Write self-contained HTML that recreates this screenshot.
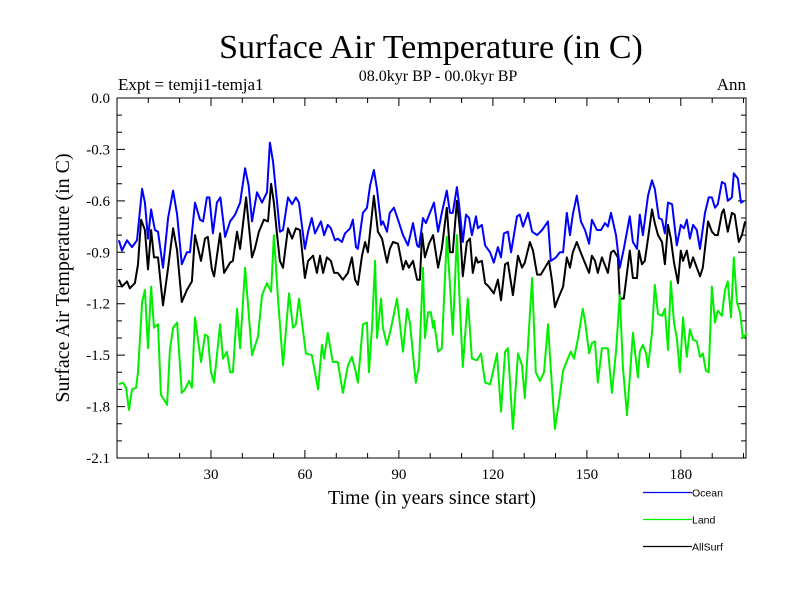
<!DOCTYPE html>
<html><head><meta charset="utf-8"><style>
html,body{margin:0;padding:0;background:#fff;}
svg{display:block;}
text{font-family:"Liberation Serif",serif;fill:#000;}
.sans{font-family:"Liberation Sans",sans-serif;}
</style></head><body>
<svg id="chart" width="800" height="600" viewBox="0 0 800 600">
<text x="431" y="58" font-size="34" text-anchor="middle">Surface Air Temperature (in C)</text>
<text x="438" y="81" font-size="16" text-anchor="middle">08.0kyr BP - 00.0kyr BP</text>
<text x="118" y="90" font-size="17">Expt = temji1-temja1</text>
<text x="746" y="90" font-size="17" text-anchor="end">Ann</text>
<text transform="translate(69,278) rotate(-90)" font-size="20" text-anchor="middle">Surface Air Temperature (in C)</text>
<text x="432" y="504" font-size="20" text-anchor="middle">Time (in years since start)</text>
<g id="axes"></g>
<g id="series"></g>
<g id="legend"></g>
</svg>
<script>
const xTickValues=[30,60,90,120,150,180];
const yTickValues=[0,-0.3,-0.6,-0.9,-1.2,-1.5,-1.8,-2.1];
const yTickLabels=["0.0","-0.3","-0.6","-0.9","-1.2","-1.5","-1.8","-2.1"];
const seriesNames=["Ocean","Land","AllSurf"];
const oceanYears=[0.6,1.6,3.2,4.8,6.4,8.0,8.9,9.9,10.9,12.1,13.1,14.7,16.3,17.9,19.2,20.7,22.3,23.3,24.9,26.5,27.5,28.7,29.5,30.6,31.9,33.0,34.5,36.1,37.7,39.3,40.9,42.0,43.1,44.7,46.3,47.9,48.8,49.8,51.1,52.0,53.0,54.6,55.9,57.1,58.1,60.0,61.0,62.2,63.2,65.1,66.1,67.3,68.3,69.6,70.5,71.8,72.8,74.4,75.3,76.3,76.9,78.5,79.8,80.8,82.0,83.0,84.3,84.9,86.2,87.1,88.4,89.7,91.3,92.9,94.5,95.8,96.4,97.7,98.6,99.9,101.2,102.5,103.7,105.3,106.3,107.2,108.5,109.2,110.4,111.4,112.4,113.3,114.6,115.2,116.5,117.5,119.1,120.3,121.6,122.6,123.5,124.8,125.8,127.7,128.6,129.6,131.2,132.5,134.1,135.7,137.6,138.5,140.1,141.4,142.4,143.6,144.6,145.5,146.8,148.1,149.4,150.7,151.6,153.2,154.5,155.8,156.7,157.7,159.3,160.5,161.8,163.7,164.7,166.0,166.9,167.9,169.5,170.8,171.7,173.0,174.0,174.9,175.9,177.2,178.7,180.0,181.0,181.9,182.9,183.9,185.1,186.1,187.7,188.9,189.9,190.9,191.8,193.1,194.1,195.0,196.3,196.9,198.2,199.2,200.1];
const oceanValues=[-0.83,-0.89,-0.83,-0.87,-0.83,-0.53,-0.61,-0.82,-0.65,-0.77,-0.78,-0.99,-0.70,-0.54,-0.68,-0.97,-0.90,-0.90,-0.61,-0.71,-0.72,-0.58,-0.58,-0.79,-0.61,-0.58,-0.81,-0.72,-0.68,-0.61,-0.41,-0.51,-0.72,-0.55,-0.61,-0.55,-0.26,-0.37,-0.61,-0.78,-0.77,-0.58,-0.62,-0.58,-0.61,-0.88,-0.78,-0.70,-0.79,-0.72,-0.80,-0.74,-0.76,-0.83,-0.82,-0.84,-0.79,-0.76,-0.71,-0.87,-0.88,-0.67,-0.64,-0.51,-0.42,-0.53,-0.74,-0.72,-0.78,-0.67,-0.64,-0.71,-0.80,-0.86,-0.73,-0.86,-0.87,-0.70,-0.73,-0.67,-0.61,-0.78,-0.67,-0.54,-0.67,-0.67,-0.52,-0.62,-0.84,-0.68,-0.70,-0.80,-0.69,-0.76,-0.74,-0.86,-0.90,-0.96,-0.87,-0.93,-0.79,-0.78,-0.90,-0.69,-0.68,-0.75,-0.67,-0.78,-0.80,-0.77,-0.72,-0.95,-0.93,-0.90,-0.90,-0.67,-0.80,-0.68,-0.57,-0.72,-0.77,-0.85,-0.71,-0.77,-0.77,-0.73,-0.75,-0.67,-0.80,-0.99,-0.88,-0.69,-0.84,-0.88,-0.68,-0.80,-0.57,-0.48,-0.53,-0.70,-0.71,-0.79,-0.61,-0.62,-0.86,-0.74,-0.76,-0.71,-0.82,-0.74,-0.77,-0.88,-0.67,-0.58,-0.58,-0.64,-0.62,-0.49,-0.50,-0.60,-0.58,-0.44,-0.47,-0.61,-0.60];
const landYears=[0.6,1.9,2.9,3.8,4.8,6.1,6.7,8.0,8.9,9.9,10.9,11.8,13.1,14.0,16.0,16.9,17.9,19.2,20.7,21.7,23.0,23.9,24.9,26.8,28.1,29.0,30.0,31.0,32.9,33.8,35.1,36.1,37.0,38.3,39.3,40.9,43.1,44.0,45.0,46.3,47.9,49.2,50.1,51.4,53.0,54.9,56.2,57.1,58.1,60.3,62.2,64.2,65.4,66.1,67.3,68.9,70.5,72.1,73.7,75.0,76.0,76.9,78.5,79.8,80.4,81.4,82.4,83.0,84.3,84.9,86.2,87.5,89.4,91.3,92.6,93.5,95.4,96.4,97.7,98.3,99.3,100.2,100.9,101.2,102.5,103.7,105.3,106.3,107.2,108.5,109.5,110.4,112.0,113.3,114.9,116.2,117.5,119.1,120.0,121.3,122.6,123.9,124.8,126.4,128.0,129.3,130.2,132.5,133.7,135.0,136.3,137.6,138.5,139.8,141.1,142.4,143.9,144.9,145.9,147.2,148.7,149.4,150.7,151.6,152.6,153.5,154.8,156.7,158.0,159.3,160.5,161.5,162.8,163.7,164.7,166.3,166.9,167.9,168.9,169.5,170.8,171.7,172.7,174.0,174.9,175.9,176.8,177.8,178.7,179.7,180.7,181.9,182.9,183.9,185.1,186.1,187.0,188.0,188.9,189.9,190.9,191.8,193.1,194.1,195.0,196.0,196.9,197.9,198.9,199.8,201.1];
const landValues=[-1.67,-1.66,-1.69,-1.82,-1.70,-1.69,-1.60,-1.19,-1.12,-1.46,-1.10,-1.34,-1.32,-1.73,-1.79,-1.47,-1.34,-1.31,-1.72,-1.70,-1.65,-1.69,-1.28,-1.54,-1.38,-1.39,-1.60,-1.66,-1.32,-1.52,-1.48,-1.60,-1.60,-1.23,-1.46,-0.99,-1.50,-1.45,-1.39,-1.15,-1.08,-1.13,-0.80,-1.17,-1.56,-1.14,-1.34,-1.32,-1.17,-1.49,-1.50,-1.70,-1.44,-1.52,-1.37,-1.54,-1.54,-1.72,-1.56,-1.51,-1.58,-1.66,-1.32,-1.31,-1.60,-1.34,-0.95,-1.40,-1.17,-1.34,-1.44,-1.34,-1.17,-1.48,-1.23,-1.31,-1.66,-1.56,-0.99,-1.40,-1.25,-1.25,-1.34,-1.30,-1.48,-1.46,-0.81,-1.09,-1.38,-0.80,-1.23,-1.57,-1.17,-1.52,-1.53,-1.49,-1.66,-1.67,-1.60,-1.49,-1.83,-1.48,-1.46,-1.93,-1.49,-1.56,-1.75,-1.05,-1.60,-1.65,-1.60,-1.32,-1.58,-1.93,-1.77,-1.59,-1.52,-1.48,-1.52,-1.40,-1.23,-1.30,-1.49,-1.43,-1.42,-1.66,-1.46,-1.46,-1.72,-1.48,-1.15,-1.57,-1.85,-1.63,-1.37,-1.63,-1.48,-1.44,-1.49,-1.57,-1.37,-1.09,-1.26,-1.27,-1.23,-1.47,-1.07,-1.31,-1.40,-1.60,-1.28,-1.51,-1.35,-1.41,-1.42,-1.51,-1.49,-1.59,-1.60,-1.10,-1.31,-1.24,-1.27,-1.12,-1.07,-1.28,-0.93,-1.19,-1.25,-1.40,-1.37,-1.05];
const allYears=[0.6,1.6,3.2,4.1,5.7,6.7,7.7,8.9,9.9,10.9,11.8,13.1,14.7,16.3,17.9,19.2,20.7,22.3,23.9,24.9,26.8,28.1,29.0,30.3,31.0,32.9,34.2,36.1,37.0,38.3,39.3,41.2,43.1,44.0,45.3,46.9,48.2,49.2,50.1,51.1,52.0,53.0,54.6,55.9,57.1,58.4,60.0,61.0,62.6,63.8,64.8,65.8,67.0,68.3,69.3,70.5,72.1,73.7,75.0,76.0,76.9,78.2,79.2,80.1,82.0,83.3,84.6,86.2,87.1,88.1,89.7,91.3,92.2,93.2,94.5,95.8,96.7,97.4,98.3,99.6,100.9,102.5,103.7,105.3,106.3,107.2,108.5,109.5,110.4,111.7,112.7,113.6,114.6,115.2,116.5,117.5,118.7,120.3,121.6,122.6,123.9,124.8,126.4,128.0,129.3,130.2,131.8,132.8,134.1,135.3,136.6,137.9,138.9,139.8,140.8,142.4,143.6,144.6,145.5,146.8,147.8,149.1,150.7,151.6,152.6,153.5,154.8,156.7,157.7,158.6,159.9,160.5,161.8,163.7,164.7,166.0,166.6,167.6,168.5,169.5,170.8,171.7,172.7,174.0,174.9,175.9,176.8,177.8,179.1,180.0,180.7,181.9,182.9,183.9,185.1,186.1,187.0,188.7,189.9,190.9,191.8,193.1,193.7,195.0,196.3,197.2,198.5,199.5,200.5];
const allValues=[-1.06,-1.10,-1.07,-1.11,-1.08,-0.97,-0.71,-0.77,-1.00,-0.77,-0.93,-0.93,-1.21,-0.99,-0.76,-0.89,-1.19,-1.12,-1.07,-0.80,-0.95,-0.82,-0.81,-1.00,-1.04,-0.79,-1.02,-0.96,-0.95,-0.78,-0.88,-0.58,-0.93,-0.88,-0.78,-0.71,-0.72,-0.50,-0.61,-0.80,-0.95,-0.99,-0.76,-0.82,-0.76,-0.77,-1.05,-0.95,-0.92,-1.02,-0.92,-1.02,-0.93,-0.95,-1.02,-1.02,-1.06,-1.02,-0.93,-1.06,-1.09,-0.92,-0.84,-0.90,-0.57,-0.78,-0.82,-0.96,-0.88,-0.84,-0.85,-1.00,-0.95,-0.99,-0.95,-1.06,-1.06,-0.79,-0.93,-0.85,-0.80,-0.99,-0.88,-0.64,-0.90,-0.90,-0.60,-0.77,-1.04,-0.84,-0.82,-1.02,-0.93,-0.96,-0.95,-1.08,-1.10,-1.14,-1.06,-1.18,-0.97,-0.96,-1.15,-0.92,-0.99,-0.96,-0.84,-0.89,-1.03,-1.03,-0.99,-0.95,-1.07,-1.22,-1.17,-1.10,-0.93,-0.99,-0.90,-0.84,-0.89,-0.95,-1.02,-0.92,-0.95,-1.02,-0.93,-1.02,-0.90,-0.89,-0.93,-1.17,-1.17,-0.89,-1.05,-1.05,-0.89,-0.97,-0.95,-0.82,-0.65,-0.73,-0.80,-0.84,-0.97,-0.74,-0.82,-0.96,-1.08,-0.89,-0.95,-0.89,-0.99,-0.93,-0.99,-1.04,-0.99,-0.72,-0.78,-0.80,-0.80,-0.67,-0.65,-0.78,-0.67,-0.68,-0.84,-0.80,-0.72];

const NS="http://www.w3.org/2000/svg";
const L=117,R=746,T=98,B=458,xMin=0,xMax=200.8,yMin=-2.1,yMax=0;
function sx(v){return L+(v-xMin)/(xMax-xMin)*(R-L);}
function sy(v){return T+(yMax-v)/(yMax-yMin)*(B-T);}
function mk(tag,attrs,parent){const e=document.createElementNS(NS,tag);for(const k in attrs)e.setAttribute(k,attrs[k]);parent.appendChild(e);return e;}
const axes=document.getElementById('axes');
const frame=mk('rect',{x:L,y:T,width:R-L,height:B-T,fill:'none',stroke:'#000','stroke-width':1},axes);


let tickPath='';
for(let v=0;v>=-2.1001;v-=0.1){const y=sy(v).toFixed(1);const major=Math.abs(Math.round(v*10)%3)===0;const len=major?8:5;tickPath+=`M${L},${y}h${len}M${R},${y}h${-len}`;}
for(let v=10;v<=200;v+=10){const x=sx(v).toFixed(1);const len=(v%30===0)?8:5;tickPath+=`M${x},${B}v${-len}M${x},${T}v${len}`;}
const ticks=mk('path',{d:tickPath,stroke:'#000','stroke-width':1,fill:'none'},axes);


yTickValues.forEach((v,i)=>{const t=mk('text',{x:110,y:sy(v)+5,'font-size':15,'text-anchor':'end'},axes);t.textContent=yTickLabels[i];

});
xTickValues.forEach(v=>{const t=mk('text',{x:sx(v),y:479,'font-size':15,'text-anchor':'middle'},axes);t.textContent=String(v);

});
const sg=document.getElementById('series');
const defs=[[allYears,allValues,'#000','allsurf-line'],[landYears,landValues,'#00ee00','land-line'],[oceanYears,oceanValues,'#0000ff','ocean-line']];
defs.forEach(d=>{const pts=d[0].map((x,i)=>sx(x).toFixed(1)+','+sy(d[1][i]).toFixed(1)).join(' ');
const p=mk('polyline',{points:pts,fill:'none',stroke:d[2],'stroke-width':2,'stroke-linejoin':'round'},sg);

});
const lg=document.getElementById('legend');
const legColors=['#0000ff','#00ee00','#000'];
seriesNames.forEach((n,i)=>{const y=492.5+i*27;
const ln=mk('line',{x1:643,x2:692,y1:y,y2:y,stroke:legColors[i],'stroke-width':1.3},lg);


const t=mk('text',{x:692,y:y+4,'font-size':10.5,class:'sans'},lg);t.textContent=n;

});
</script>
</body></html>
